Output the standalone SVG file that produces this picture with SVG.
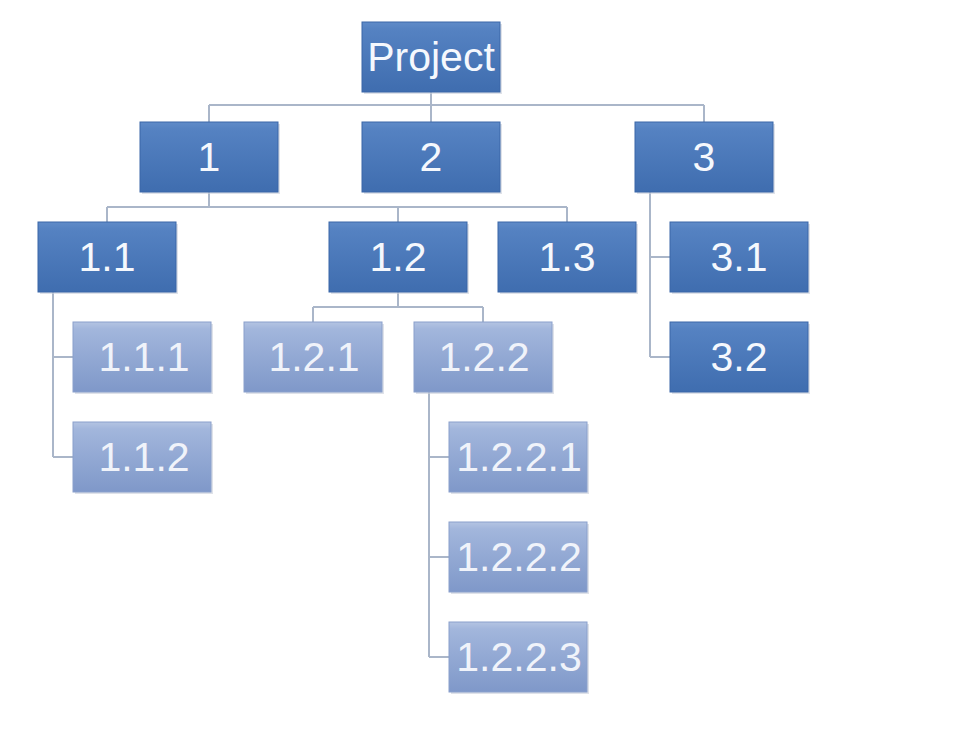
<svg xmlns="http://www.w3.org/2000/svg" width="956" height="747" viewBox="0 0 956 747">
<defs>
<linearGradient id="gd" x1="0" y1="0" x2="0" y2="1">
<stop offset="0" stop-color="#5f8bc8"/>
<stop offset="0.1" stop-color="#5582c2"/>
<stop offset="1" stop-color="#3f6daf"/>
</linearGradient>
<linearGradient id="gl" x1="0" y1="0" x2="0" y2="1">
<stop offset="0" stop-color="#b4c4e2"/>
<stop offset="0.1" stop-color="#a2b6dc"/>
<stop offset="1" stop-color="#7f98c9"/>
</linearGradient>
<style>
.d{fill:url(#gd);stroke:#3a67a8;stroke-width:1}
.l{fill:url(#gl);stroke:#8aa0cc;stroke-width:1}
.sh{fill:#c9cfda;opacity:0.6}
text{font-family:"Liberation Sans",Arial,sans-serif;font-size:41px;text-anchor:middle;fill:#f5f8fd}
.lt{fill:#f0f3fa}
.c{fill:none;stroke:#aab6c9;stroke-width:2}
</style>
</defs>
<rect width="956" height="747" fill="#ffffff"/>
<g id="connectors">
<path class="c" d="M431 92V105M209 105H704M209 105V122M431 105V122M704 105V122"/>
<path class="c" d="M209 192V207M107 207H567M107 207V222M398 207V222M567 207V222"/>
<path class="c" d="M650 192V357M650 257H670M650 357H670"/>
<path class="c" d="M53 292V457M53 357H73M53 457H73"/>
<path class="c" d="M398 292V307M313 307H483M313 307V322M483 307V322"/>
<path class="c" d="M429 392V657M429 457H449M429 557H449M429 657H449"/>
</g>
<g id="n-project"><rect class="sh" x="364" y="24" width="138" height="70"/><rect class="d" x="362" y="22" width="138" height="70"/><text x="431" y="71">Project</text></g>
<g id="n-1"><rect class="sh" x="142" y="124" width="138" height="70"/><rect class="d" x="140" y="122" width="138" height="70"/><text x="209" y="171">1</text></g>
<g id="n-2"><rect class="sh" x="364" y="124" width="138" height="70"/><rect class="d" x="362" y="122" width="138" height="70"/><text x="431" y="171">2</text></g>
<g id="n-3"><rect class="sh" x="637" y="124" width="138" height="70"/><rect class="d" x="635" y="122" width="138" height="70"/><text x="704" y="171">3</text></g>
<g id="n-1.1"><rect class="sh" x="40" y="224" width="138" height="70"/><rect class="d" x="38" y="222" width="138" height="70"/><text x="107" y="271">1.1</text></g>
<g id="n-1.2"><rect class="sh" x="331" y="224" width="138" height="70"/><rect class="d" x="329" y="222" width="138" height="70"/><text x="398" y="271">1.2</text></g>
<g id="n-1.3"><rect class="sh" x="500" y="224" width="138" height="70"/><rect class="d" x="498" y="222" width="138" height="70"/><text x="567" y="271">1.3</text></g>
<g id="n-3.1"><rect class="sh" x="672" y="224" width="138" height="70"/><rect class="d" x="670" y="222" width="138" height="70"/><text x="739" y="271">3.1</text></g>
<g id="n-3.2"><rect class="sh" x="672" y="324" width="138" height="70"/><rect class="d" x="670" y="322" width="138" height="70"/><text x="739" y="371">3.2</text></g>
<g id="n-1.1.1"><rect class="sh" x="75" y="324" width="138" height="70"/><rect class="l" x="73" y="322" width="138" height="70"/><text class="lt" x="144" y="371">1.1.1</text></g>
<g id="n-1.1.2"><rect class="sh" x="75" y="424" width="138" height="70"/><rect class="l" x="73" y="422" width="138" height="70"/><text class="lt" x="144" y="471">1.1.2</text></g>
<g id="n-1.2.1"><rect class="sh" x="246" y="324" width="138" height="70"/><rect class="l" x="244" y="322" width="138" height="70"/><text class="lt" x="314" y="371">1.2.1</text></g>
<g id="n-1.2.2"><rect class="sh" x="416" y="324" width="138" height="70"/><rect class="l" x="414" y="322" width="138" height="70"/><text class="lt" x="484" y="371">1.2.2</text></g>
<g id="n-1.2.2.1"><rect class="sh" x="451" y="424" width="138" height="70"/><rect class="l" x="449" y="422" width="138" height="70"/><text class="lt" x="519" y="471">1.2.2.1</text></g>
<g id="n-1.2.2.2"><rect class="sh" x="451" y="524" width="138" height="70"/><rect class="l" x="449" y="522" width="138" height="70"/><text class="lt" x="519" y="571">1.2.2.2</text></g>
<g id="n-1.2.2.3"><rect class="sh" x="451" y="624" width="138" height="70"/><rect class="l" x="449" y="622" width="138" height="70"/><text class="lt" x="519" y="671">1.2.2.3</text></g>
</svg>
